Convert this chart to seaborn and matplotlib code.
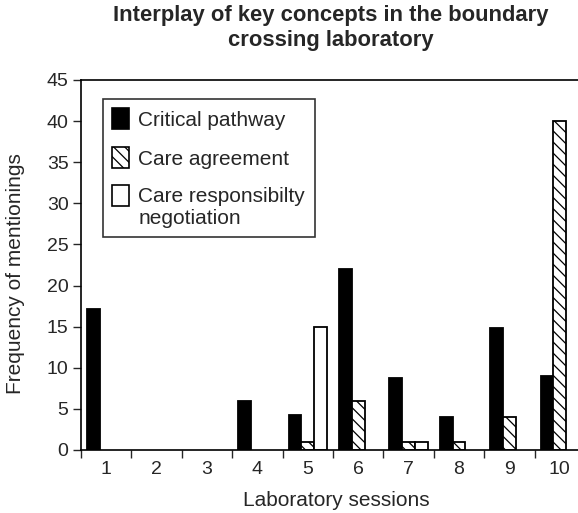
import matplotlib
matplotlib.use("Agg")
import matplotlib.pyplot as plt
import seaborn as sns
import pandas as pd
from matplotlib.patches import Patch
from matplotlib.ticker import FixedLocator

sessions = ["1", "2", "3", "4", "5", "6", "7", "8", "9", "10"]
series_names = ["Critical pathway", "Care agreement", "Care responsibilty\nnegotiation"]
critical_pathway = [17.2, 0, 0, 6, 4.2, 22, 8.8, 4, 14.8, 9]
care_agreement = [0, 0, 0, 0, 1, 6, 1, 1, 4, 40]
care_responsibility = [0, 0, 0, 0, 15, 0, 1, 0, 0, 0]

rows = []
for name, vals in zip(series_names, [critical_pathway, care_agreement, care_responsibility]):
    for s, v in zip(sessions, vals):
        if v > 0:
            rows.append({"session": s, "series": name, "value": v})
df = pd.DataFrame(rows)

sns.set_style("ticks")
plt.rcParams['font.family'] = ['Liberation Sans', 'DejaVu Sans']
plt.rcParams['hatch.linewidth'] = 0.9

fig = plt.figure(figsize=(5.78, 5.13), dpi=100)
ax = fig.add_axes([81/578, 63/513, 504/578, 370/513])

HATCH = "\\\\\\"
palette = {series_names[0]: "black", series_names[1]: "white", series_names[2]: "white"}
sns.barplot(data=df, x="session", y="value", hue="series", order=sessions,
            hue_order=series_names, palette=palette, width=0.76,
            edgecolor="black", linewidth=1.3, ax=ax, legend=False, errorbar=None)

hatches = [None, HATCH, None]
for cont, h in zip(ax.containers, hatches):
    for p in cont:
        if h:
            p.set_hatch(h)

ax.set_ylim(0, 45)
ax.set_xlim(-0.5, len(sessions) - 0.5)
ax.set_yticks(range(0, 46, 5))
ax.tick_params(axis='y', labelsize=14, length=6, width=1, direction='out', pad=3)
ax.tick_params(axis='x', which='major', length=0, labelsize=14, pad=8)
ax.xaxis.set_minor_locator(FixedLocator([i - 0.5 for i in range(len(sessions) + 1)]))
ax.tick_params(axis='x', which='minor', length=6, width=1, direction='out')

for sp in ["left", "bottom", "top"]:
    ax.spines[sp].set_visible(True)
    ax.spines[sp].set_linewidth(1.2)
    ax.spines[sp].set_color("black")
ax.spines["right"].set_visible(False)

ax.set_xlabel("Laboratory sessions", fontsize=15)
ax.xaxis.set_label_coords(0.506, -0.11)
ax.set_ylabel("Frequency of mentionings", fontsize=15)
ax.yaxis.set_label_coords(-0.111, 0.477)

fig.text(331/578, 1 - 28/513, "Interplay of key concepts in the boundary\ncrossing laboratory",
         ha="center", va="center", fontsize=15.8, fontweight="bold", linespacing=1.3)

handles = [Patch(facecolor="black", edgecolor="black", linewidth=1.2),
           Patch(facecolor="white", edgecolor="black", hatch=HATCH, linewidth=1.2),
           Patch(facecolor="white", edgecolor="black", linewidth=1.2)]
leg = ax.legend(handles, series_names, loc="upper left", bbox_to_anchor=(22/504, 1 - 19/370),
                frameon=True, fancybox=False, edgecolor="black", fontsize=15,
                handlelength=0.8, handleheight=1.15, handletextpad=0.45, labelspacing=0.85,
                borderpad=0.45, borderaxespad=0)
leg.get_frame().set_linewidth(1.2)
h3 = leg.legend_handles[2]
h3.set_y(h3.get_y() + 8.5)

fig.savefig("out.png", dpi=100)
